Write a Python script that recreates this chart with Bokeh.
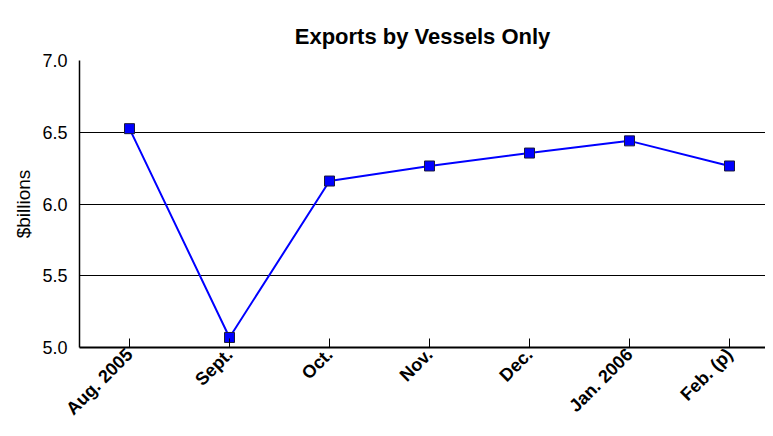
import math
from bokeh.plotting import figure
from bokeh.models import Range1d, FixedTicker, PrintfTickFormatter
from bokeh.embed import file_html
from bokeh.resources import INLINE

categories = ["Aug. 2005", "Sept.", "Oct.", "Nov.", "Dec.", "Jan. 2006", "Feb. (p)"]
exports = [6.525, 5.07, 6.16, 6.265, 6.355, 6.44, 6.265]
y_ticks = [5.0, 5.5, 6.0, 6.5, 7.0]

xs = list(range(len(categories)))

p = figure(width=765, height=428, output_backend="svg", toolbar_location=None,
           x_range=Range1d(-0.5, 6.36), y_range=Range1d(5.0, 7.0),
           min_border_left=79, min_border_right=0, min_border_top=60, min_border_bottom=81)

p.title.text = "Exports by Vessels Only"
p.title.align = "center"
p.title.vertical_align = "top"
p.title.text_font = "Liberation Sans"
p.title.text_font_size = "22px"
p.title.text_font_style = "bold"
p.title.text_color = "black"
p.title.standoff = 0
p.title.padding = 10

p.outline_line_color = None
p.background_fill_color = "white"
p.border_fill_color = "white"

p.line(xs, exports, line_color="#0000FF", line_width=2)
p.scatter(xs, exports, marker="square", size=10, fill_color="#0000FF", line_color="#1a1a3a", line_width=1)

xa = p.xaxis[0]
xa.ticker = FixedTicker(ticks=xs)
xa.major_label_overrides = {i: c for i, c in enumerate(categories)}
xa.major_label_orientation = math.pi / 4
xa.major_label_text_font = "Liberation Sans"
xa.major_label_text_font_size = "18px"
xa.major_label_text_font_style = "bold"
xa.major_label_text_color = "black"
xa.major_label_standoff = 4
xa.major_tick_in = 9
xa.major_tick_out = 0
xa.major_tick_line_color = "black"
xa.minor_tick_line_color = None
xa.axis_line_color = "black"
xa.axis_line_width = 2

ya = p.yaxis[0]
ya.ticker = FixedTicker(ticks=y_ticks)
ya.formatter = PrintfTickFormatter(format="%.1f")
ya.axis_label = "$billions"
ya.axis_label_text_font = "Liberation Sans"
ya.axis_label_text_font_size = "19px"
ya.axis_label_text_font_style = "normal"
ya.axis_label_text_color = "black"
ya.axis_label_standoff = 5
ya.major_label_text_font = "Liberation Sans"
ya.major_label_text_font_size = "18px"
ya.major_label_text_color = "black"
ya.major_label_standoff = 12
ya.major_tick_in = 0
ya.major_tick_out = 0
ya.minor_tick_line_color = None
ya.axis_line_color = "black"
ya.axis_line_width = 1.5

p.xgrid.grid_line_color = None
p.ygrid.ticker = FixedTicker(ticks=y_ticks)
p.ygrid.grid_line_color = "black"
p.ygrid.grid_line_width = 1

open("out.html", "w").write(file_html(p, INLINE))
